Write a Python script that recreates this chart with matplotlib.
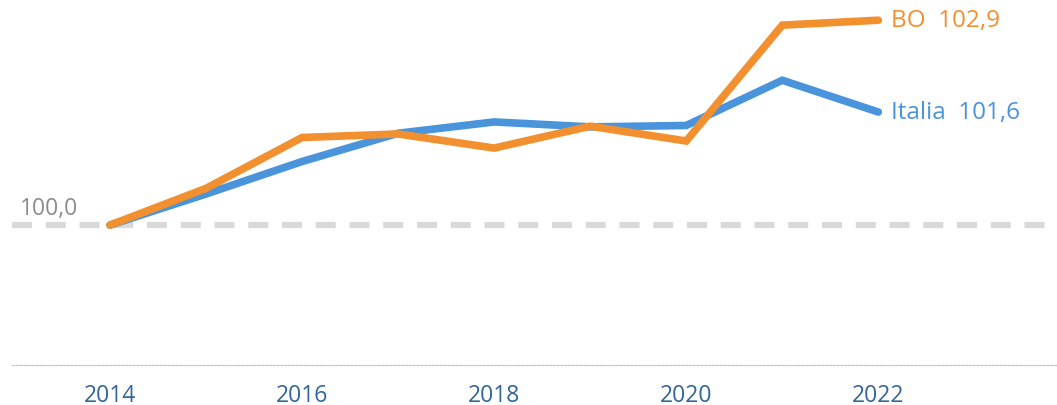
import numpy as np
import matplotlib.pyplot as plt

# %% data -----

years = [2014, 2015, 2016, 2017, 2018, 2019, 2020, 2021, 2022]
italia = [100.0, 100.44, 100.9, 101.3, 101.46, 101.39, 101.41, 102.05, 101.6]
bologna = [100.0, 100.52, 101.24, 101.29, 101.09, 101.4, 101.19, 102.83, 102.9]
tick_years = [2014, 2016, 2018, 2020, 2022]
base = 100.0

# %% plot -----

blue = '#4a94dc'
orange = '#f28f2e'
font = 'Open Sans'

fig = plt.figure(figsize=(10.57, 4.06), dpi=100)
ax = fig.add_axes([12 / 1057, 40 / 406, 1045 / 1057, 366 / 406])

ax.axhline(base, color='#d9d9d9', lw=4.5, dashes=(3.2, 2.2), zorder=1)
ax.plot(years, italia, color=blue, lw=5.5, solid_capstyle='round', solid_joinstyle='miter', zorder=2)
ax.plot(years, bologna, color=orange, lw=5.5, solid_capstyle='round', solid_joinstyle='miter', zorder=3)

ax.text(years[-1] + 0.13, italia[-1], 'Italia  101,6', color=blue,
        fontsize=17.5, va='center', ha='left', family=font)
ax.text(years[-1] + 0.13, bologna[-1], 'BO  102,9', color=orange,
        fontsize=17.5, va='center', ha='left', family=font)
ax.text(2013.06, base + 0.07, '100,0', color='#8c8c8c', fontsize=16.5,
        va='bottom', ha='left', family=font)

ax.set_xlim(2012.98, 2023.86)
ax.set_ylim(98.02, 103.2)
ax.set_xticks(tick_years)
ax.set_xticklabels([str(y) for y in tick_years], color='#336699', fontsize=16.5, family=font)
ax.tick_params(axis='x', length=0, pad=13)
ax.set_yticks([])
for side in ['top', 'right', 'left']:
    ax.spines[side].set_visible(False)
ax.spines['bottom'].set_color('#c0c0c0')
ax.spines['bottom'].set_linestyle((0, (2, 1.5)))
ax.spines['bottom'].set_linewidth(0.8)

plt.savefig('out.png', dpi=100)
